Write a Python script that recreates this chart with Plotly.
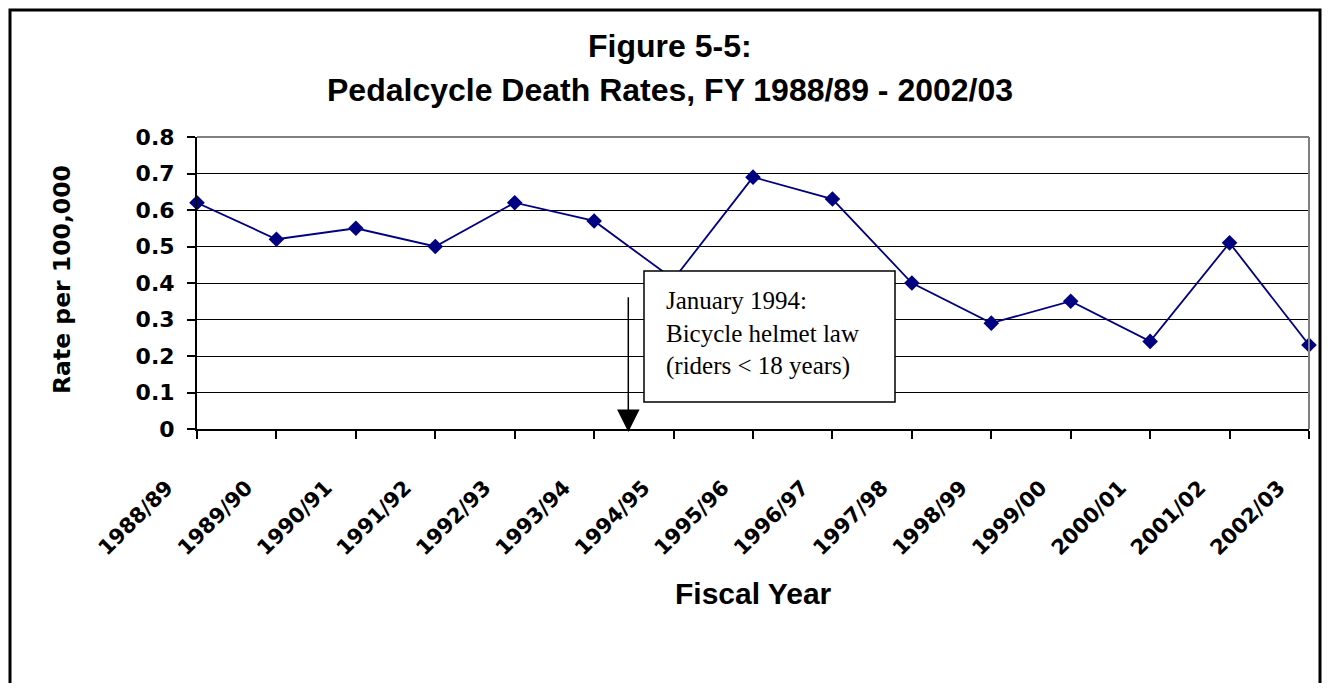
import plotly.graph_objects as go

years = ["1988/89", "1989/90", "1990/91", "1991/92", "1992/93", "1993/94", "1994/95",
         "1995/96", "1996/97", "1997/98", "1998/99", "1999/00", "2000/01", "2001/02", "2002/03"]
rates = [0.62, 0.52, 0.55, 0.50, 0.62, 0.57, 0.41, 0.69, 0.63, 0.40, 0.29, 0.35, 0.24, 0.51, 0.23]
y_ticks = [0, 0.1, 0.2, 0.3, 0.4, 0.5, 0.6, 0.7, 0.8]
y_ticklabels = ["0", "0.1", "0.2", "0.3", "0.4", "0.5", "0.6", "0.7", "0.8"]
note_lines = ["January 1994:", "Bicycle helmet law", "(riders < 18 years)"]
law_position = 5.43  # January 1994, between 1993/94 and 1994/95

OFF = 8  # page body margin
W, H = 1330 - 2 * OFF, 691 - 2 * OFF
L, T = 197 - OFF, 137 - OFF
PW, PH = 1112, 292
R, B = W - L - PW, H - T - PH


def px(xpage):
    return (xpage - OFF - L) / PW


def py(ypage):
    return (T + PH - (ypage - OFF)) / PH


xs = list(range(len(years)))

fig = go.Figure()
fig.add_trace(go.Scatter(
    x=xs, y=rates, mode="lines+markers",
    line=dict(color="#000080", width=1.8),
    marker=dict(symbol="diamond", size=12, color="#000080"),
    showlegend=False, cliponaxis=False,
))

tickfont = dict(family="DejaVu Sans", size=21, color="black", weight="bold")

fig.update_layout(
    width=W, height=H,
    margin=dict(l=L, r=R, t=T, b=B, pad=0),
    paper_bgcolor="white", plot_bgcolor="white",
    xaxis=dict(
        range=[0, len(years) - 1], tickmode="array", tickvals=xs, ticktext=years,
        tickangle=-45, tickfont=tickfont, ticks="outside", ticklen=8, tickwidth=2,
        tickcolor="black", showline=True, linecolor="black", linewidth=2,
        showgrid=False, zeroline=False, ticklabelstandoff=28, ticklabelshift=-30,
    ),
    yaxis=dict(
        range=[0, 0.8], tickmode="array", tickvals=y_ticks, ticktext=y_ticklabels,
        tickfont=dict(family="DejaVu Sans", size=22, color="black", weight="bold"),
        ticks="outside", ticklen=8, tickwidth=2, tickcolor="black",
        showline=True, linecolor="black", linewidth=2,
        showgrid=True, gridcolor="black", gridwidth=1, zeroline=False,
        ticklabelstandoff=8,
    ),
)

shapes = []
shapes.append(dict(type="line", xref="paper", yref="paper", x0=0, x1=1, y0=1, y1=1,
                   line=dict(color="#808080", width=2), layer="above"))
shapes.append(dict(type="line", xref="paper", yref="paper", x0=1, x1=1, y0=0, y1=1,
                   line=dict(color="#808080", width=2), layer="above"))
shapes.append(dict(type="rect", xref="paper", yref="paper",
                   x0=px(644), x1=px(895), y0=py(402), y1=py(271),
                   line=dict(color="black", width=1.5), fillcolor="white", layer="above"))
# outer chart border (as close to the page edge as the body margin allows)
shapes.append(dict(type="rect", xref="paper", yref="paper",
                   x0=px(OFF + 2), x1=px(OFF + W - 2), y0=py(760), y1=py(OFF + 2),
                   line=dict(color="black", width=3), fillcolor="rgba(0,0,0,0)", layer="above"))
fig.update_layout(shapes=shapes)

title_font = dict(family="Liberation Sans", size=32, color="black", weight="bold")
annotations = [
    dict(text="Figure 5-5:", x=px(669.5), y=py(46), xref="paper", yref="paper",
         xanchor="center", yanchor="middle", showarrow=False, font=title_font),
    dict(text="Pedalcycle Death Rates, FY 1988/89 - 2002/03", x=px(669.5), y=py(90),
         xref="paper", yref="paper", xanchor="center", yanchor="middle",
         showarrow=False, font=title_font),
    dict(text="Fiscal Year", x=0.5, y=py(593), xref="paper", yref="paper",
         xanchor="center", yanchor="middle", showarrow=False,
         font=dict(family="Liberation Sans", size=30, color="black", weight="bold")),
    dict(text="Rate per 100,000", x=px(62), y=py(280), xref="paper", yref="paper",
         xanchor="center", yanchor="middle", showarrow=False, textangle=-90,
         font=dict(family="DejaVu Sans", size=23.5, color="black", weight="bold")),
    dict(text="<br>".join(note_lines), x=px(664), y=py(333), xref="paper", yref="paper",
         xanchor="left", yanchor="middle", align="left", showarrow=False,
         font=dict(family="Liberation Serif", size=25, color="black")),
    dict(text="", x=law_position, y=-0.008, xref="x", yref="y",
         ax=law_position, ay=0.365, axref="x", ayref="y",
         showarrow=True, arrowhead=2, arrowsize=3, arrowwidth=1.5, arrowcolor="black"),
]
fig.update_layout(annotations=annotations)

fig.write_html("out.html")
